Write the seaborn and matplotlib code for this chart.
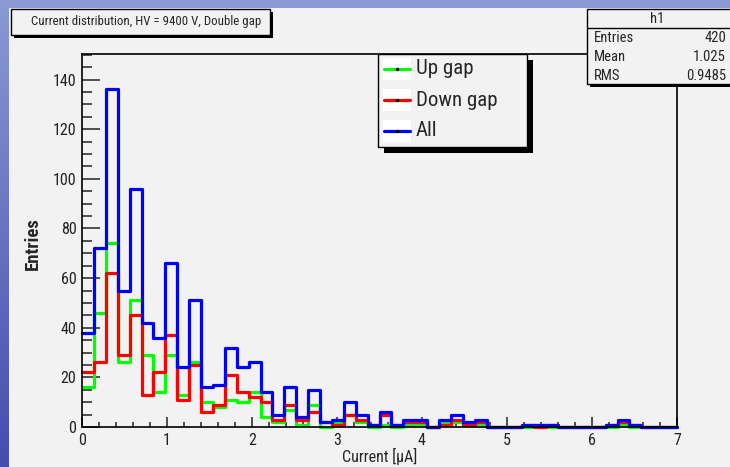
import matplotlib
matplotlib.use("Agg")

import matplotlib.pyplot as plt
import numpy as np
import pandas as pd
import seaborn as sns
from matplotlib.patches import Rectangle
from matplotlib.lines import Line2D
from matplotlib.ticker import MultipleLocator

W, H = 730, 467

# histogram binning: 50 bins over 0..7 uA
n_bins = 50
x_range = (0, 7)

up_gap = [16, 46, 74, 26, 51, 29, 14, 29, 13, 26,
          10, 8, 11, 10, 14, 4, 2, 7, 1, 9,
          0, 2, 5, 2, 0, 1, 0, 1, 1, 0,
          2, 2, 1, 1, 0, 0, 0, 0, 1, 0,
          0, 0, 0, 0, 0, 1, 0, 0, 0, 0]
down_gap = [22, 26, 62, 29, 45, 13, 22, 37, 11, 25,
            6, 9, 21, 14, 12, 10, 3, 9, 3, 6,
            2, 1, 5, 3, 1, 5, 1, 2, 2, 0,
            1, 3, 1, 2, 0, 0, 0, 1, 0, 1,
            0, 0, 0, 0, 1, 2, 1, 0, 0, 0]
all_gaps = [38, 72, 136, 55, 96, 42, 36, 66, 24, 51,
            16, 17, 32, 24, 26, 14, 5, 16, 4, 15,
            2, 3, 10, 5, 1, 6, 1, 3, 3, 0,
            3, 5, 2, 3, 0, 0, 0, 1, 1, 1,
            0, 0, 0, 0, 1, 3, 1, 0, 0, 0]

series_labels = ["Up gap", "Down gap", "All"]
series_colors = ["#00ff00", "#ff0000", "#0000ff"]

title_text = "Current distribution, HV = 9400 V, Double gap"
stats_name = "h1"
stats_rows = [("Entries", "420"), ("Mean", "1.025"), ("RMS", "0.9485")]

sns.set_style("ticks")
plt.rcParams["font.family"] = ["Roboto Condensed", "DejaVu Sans"]
plt.rcParams["font.stretch"] = "condensed"

bin_edges = np.linspace(x_range[0], x_range[1], n_bins + 1)
centers = (bin_edges[:-1] + bin_edges[1:]) / 2
frames = []
for label, counts in zip(series_labels, [up_gap, down_gap, all_gaps]):
    frames.append(pd.DataFrame({"current": centers, "count": counts, "gap": label}))
df = pd.concat(frames, ignore_index=True)


def fx(x):
    return x / W


def fy(y):
    return 1 - y / H


fig = plt.figure(figsize=(W / 100, H / 100), dpi=100)

# background: blue gradient + light grey canvas
ax_bg = fig.add_axes([0, 0, 1, 1], zorder=-10)
t = np.linspace(0, 1, 256)[:, None]
top = np.array([138, 154, 210]) / 255
bottom = np.array([70, 76, 176]) / 255
grad = (top * (1 - t) + bottom * t)[:, None, :]
ax_bg.imshow(grad, extent=[0, W, H, 0], aspect="auto")
ax_bg.add_patch(Rectangle((9, 8), W, H, facecolor="#f2f2f2", edgecolor="none"))
ax_bg.set_xlim(0, W)
ax_bg.set_ylim(H, 0)
ax_bg.axis("off")

ax = fig.add_axes([fx(82), fy(427), (677 - 82) / W, (427 - 53.5) / H])
ax.set_facecolor("#f2f2f2")

for label, color in zip(series_labels, series_colors):
    sns.histplot(data=df[df["gap"] == label], x="current", weights="count",
                 bins=n_bins, binrange=x_range, element="step", fill=False,
                 color=color, linewidth=2.3, ax=ax)
for line in ax.lines:
    line.set_clip_on(False)

ax.set_xlim(*x_range)
ax.set_ylim(0, 150.5)
ax.xaxis.set_major_locator(MultipleLocator(1))
ax.xaxis.set_minor_locator(MultipleLocator(0.2))
ax.yaxis.set_major_locator(MultipleLocator(20))
ax.yaxis.set_minor_locator(MultipleLocator(5))
ax.tick_params(axis="both", which="both", direction="in", top=False, right=False,
               colors="#222222", width=1.1, labelsize=11.5)
ax.tick_params(axis="x", which="major", length=7.5, pad=4)
ax.tick_params(axis="x", which="minor", length=3.8)
ax.tick_params(axis="y", which="major", length=13, pad=4)
ax.tick_params(axis="y", which="minor", length=7)
for spine in ax.spines.values():
    spine.set_color("black")
    spine.set_linewidth(1.2)

ax.set_xlabel("Current [µA]", fontsize=11.5)
ax.set_ylabel("Entries", fontsize=13.5, fontweight="bold")
ax.xaxis.set_label_coords(0.5, (427 - 448) / (427 - 53.5))
ax.yaxis.set_label_coords((42 - 82) / (677 - 82), 0.49)


def box(x0, y0, x1, y1, shadow=3, z=5):
    fig.patches.append(Rectangle((fx(x0 + shadow), fy(y1 + shadow)), (x1 - x0) / W, (y1 - y0) / H,
                                 transform=fig.transFigure, facecolor="black",
                                 edgecolor="none", zorder=z))
    fig.patches.append(Rectangle((fx(x0), fy(y1)), (x1 - x0) / W, (y1 - y0) / H,
                                 transform=fig.transFigure, facecolor="#f2f2f2",
                                 edgecolor="black", linewidth=1.0, zorder=z + 0.1))


# title box
box(11, 9, 270, 35)
fig.text(fx(146), fy(22), title_text, ha="center", va="center", fontsize=9.3, zorder=7)

# stats box
box(587, 9, 735, 84)
fig.lines.append(Line2D([fx(587), fx(735)], [fy(28), fy(28)], transform=fig.transFigure,
                        color="black", linewidth=1.0, zorder=6))
fig.text(fx(657), fy(19), stats_name, ha="center", va="center", fontsize=10.5, zorder=7)
for i, (name, value) in enumerate(stats_rows):
    yy = 38 + i * 19
    fig.text(fx(594), fy(yy), name, ha="left", va="center", fontsize=10.5, zorder=7)
    fig.text(fx(726), fy(yy), value, ha="right", va="center", fontsize=10.5, zorder=7)

# legend box
box(378, 54, 527, 147, shadow=6)
for i, (label, color) in enumerate(zip(series_labels, series_colors)):
    yy = 69 + i * 31
    fig.patches.append(Rectangle((fx(383), fy(yy + 11)), 28 / W, 22 / H,
                                 transform=fig.transFigure, facecolor="white",
                                 edgecolor="none", zorder=6))
    fig.lines.append(Line2D([fx(384), fx(410)], [fy(yy), fy(yy)], transform=fig.transFigure,
                            color=color, linewidth=2.3, zorder=7))
    fig.lines.append(Line2D([fx(397)], [fy(yy)], transform=fig.transFigure, marker="o",
                            markersize=1.5, color="black", linestyle="none", zorder=8))
    fig.text(fx(416), fy(yy), label, ha="left", va="center", fontsize=15, zorder=7)

fig.savefig("out.png", dpi=100)
